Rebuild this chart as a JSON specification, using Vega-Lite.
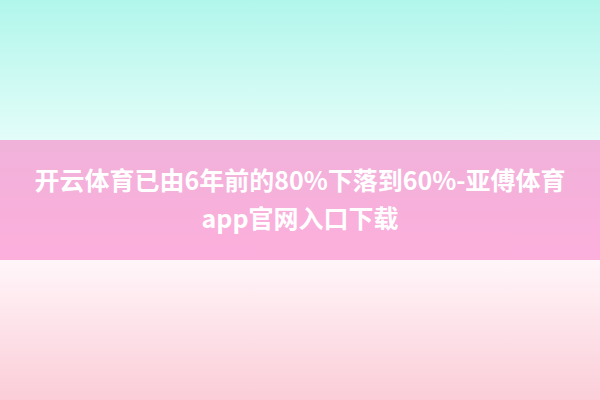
{
  "$schema": "https://vega.github.io/schema/vega-lite/v6.json",
  "width": 600,
  "height": 400,
  "autosize": {"type": "fit", "contains": "padding"},
  "padding": 0,
  "background": "#ffffff",
  "datasets": {
    "bands": [
      {"band": "top", "start": 0, "end": 140},
      {"band": "middle", "start": 140, "end": 260},
      {"band": "bottom", "start": 260, "end": 400}
    ],
    "lines": [
      {"line": 1, "pos": 182, "text": "开云体育已由6年前的80%下落到60%-亚傅体育"},
      {"line": 2, "pos": 220, "text": "app官网入口下载"}
    ]
  },
  "layer": [
    {
      "data": {"name": "bands"},
      "transform": [{"filter": "datum.band == 'top'"}],
      "mark": {
        "type": "rect",
        "color": {
          "gradient": "linear", "x1": 0, "y1": 0, "x2": 0, "y2": 1,
          "stops": [{"offset": 0, "color": "#b1f6eb"}, {"offset": 1, "color": "#e3fdf9"}]
        }
      },
      "encoding": {
        "y": {"field": "start", "type": "quantitative", "scale": {"domain": [0, 400], "reverse": true, "nice": false, "zero": false}, "axis": null},
        "y2": {"field": "end"}
      }
    },
    {
      "data": {"name": "bands"},
      "transform": [{"filter": "datum.band == 'middle'"}],
      "mark": {
        "type": "rect",
        "color": {
          "gradient": "linear", "x1": 0, "y1": 0, "x2": 0, "y2": 1,
          "stops": [{"offset": 0, "color": "#f0b2da"}, {"offset": 1, "color": "#fdafdc"}]
        }
      },
      "encoding": {
        "y": {"field": "start", "type": "quantitative", "axis": null},
        "y2": {"field": "end"}
      }
    },
    {
      "data": {"name": "bands"},
      "transform": [{"filter": "datum.band == 'bottom'"}],
      "mark": {
        "type": "rect",
        "color": {
          "gradient": "linear", "x1": 0, "y1": 0, "x2": 0, "y2": 1,
          "stops": [{"offset": 0, "color": "#fff6f9"}, {"offset": 1, "color": "#fbcdd8"}]
        }
      },
      "encoding": {
        "y": {"field": "start", "type": "quantitative", "axis": null},
        "y2": {"field": "end"}
      }
    },
    {
      "data": {"name": "lines"},
      "mark": {
        "type": "text",
        "font": "Noto Sans CJK SC",
        "fontSize": 25,
        "fontWeight": "bold",
        "color": "#ffffff",
        "align": "center",
        "baseline": "middle"
      },
      "encoding": {
        "y": {"field": "pos", "type": "quantitative", "axis": null},
        "text": {"field": "text"}
      }
    }
  ],
  "config": {
    "view": {"stroke": null}
  }
}
